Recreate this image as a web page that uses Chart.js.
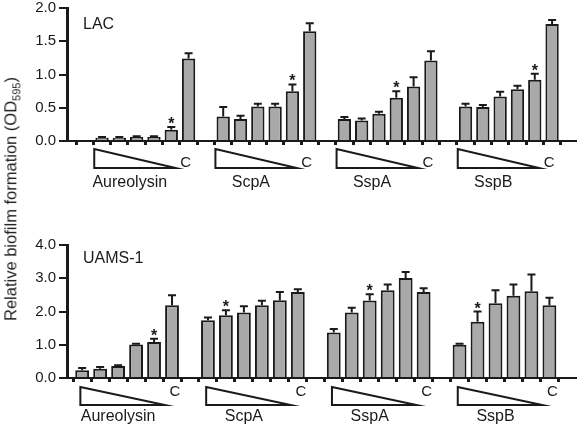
<!DOCTYPE html>
<html>
<head>
<meta charset="utf-8">
<script src="https://cdn.jsdelivr.net/npm/chart.js@4"></script>
<style>
  body { margin: 0; background: #fff; }
  #wrap { position: relative; width: 577px; height: 426px; font-family: "Liberation Sans", Arial, sans-serif; }
  canvas { position: absolute; left: 0; }
  #ylab { position: absolute; left: 12px; top: 199px; transform: translate(-50%, -50%) rotate(-90deg);
          white-space: nowrap; font-size: 16.5px; color: #222; }
  #ylab sub { font-size: 11px; }
</style>
</head>
<body>
<div id="wrap">
  <canvas id="lac" width="577" height="200" style="top:0"></canvas>
  <canvas id="uams" width="577" height="226" style="top:200px"></canvas>
  <div id="ylab">Relative biofilm formation (OD<sub>595</sub>)</div>
</div>
<script>
const groups = ["Aureolysin", "ScpA", "SspA", "SspB"];

// LAC: 6 bars per group (5 concentrations, then control C)
const lacMean = [0.05, 0.05, 0.06, 0.06, 0.17, 1.24,
                 0.37, 0.33, 0.52, 0.52, 0.75, 1.65,
                 0.33, 0.31, 0.41, 0.65, 0.82, 1.21,
                 0.52, 0.51, 0.67, 0.78, 0.92, 1.76];
const lacErr = [0.01, 0.01, 0.01, 0.01, 0.04, 0.08,
                0.14, 0.05, 0.04, 0.04, 0.10, 0.12,
                0.03, 0.03, 0.03, 0.10, 0.14, 0.14,
                0.04, 0.03, 0.07, 0.05, 0.09, 0.06];
const lacStar = [5, 5, 4, 5];   // bar (1-based) with asterisk in each group
const lacTicks = [0, 0.5, 1.0, 1.5, 2.0];

// UAMS-1
const uamsMean = [0.23, 0.28, 0.36, 1.01, 1.08, 2.19,
                  1.74, 1.89, 1.97, 2.19, 2.34, 2.59,
                  1.37, 1.97, 2.33, 2.64, 3.01, 2.59,
                  1.00, 1.69, 2.25, 2.47, 2.61, 2.19];
const uamsErr = [0.07, 0.05, 0.02, 0.02, 0.10, 0.30,
                 0.08, 0.15, 0.19, 0.13, 0.25, 0.08,
                 0.10, 0.14, 0.19, 0.17, 0.18, 0.11,
                 0.03, 0.31, 0.39, 0.34, 0.50, 0.22];
const uamsStar = [5, 2, 3, 2];
const uamsTicks = [0, 1.0, 2.0, 3.0, 4.0];

const FONT = "Liberation Sans";
const INK = "#1a1a1a";

function makePanel(id, title, mean, err, star, ticks, cfg) {
  // slot index of each bar: one empty slot per group
  const pts = mean.map((v, i) => ({ x: cfg.first + Math.floor(i / 6) * 7 + (i % 6), y: v }));

  const deco = {
    id: "deco",
    afterDatasetsDraw(chart) {
      const ctx = chart.ctx, xs = chart.scales.x, ys = chart.scales.y;
      const meta = chart.getDatasetMeta(0);
      ctx.save();
      ctx.strokeStyle = INK;
      ctx.fillStyle = INK;
      ctx.lineWidth = 2;
      // error bars (upward only)
      meta.data.forEach((bar, i) => {
        const top = ys.getPixelForValue(mean[i] + err[i]);
        ctx.beginPath();
        ctx.moveTo(bar.x, bar.y);
        ctx.lineTo(bar.x, top);
        ctx.moveTo(bar.x - 4, top);
        ctx.lineTo(bar.x + 4, top);
        ctx.stroke();
      });
      // asterisks
      ctx.font = "bold 16px " + FONT;
      ctx.textAlign = "center";
      ctx.textBaseline = "alphabetic";
      star.forEach((b, g) => {
        const i = g * 6 + b - 1;
        const top = ys.getPixelForValue(mean[i] + err[i]);
        ctx.fillText("*", meta.data[i].x, top + 2);
      });
      // triangles, C labels, group names
      groups.forEach((name, g) => {
        const f = cfg.first + g * 7;
        const l = xs.getPixelForValue(f + cfg.triL);
        const r = xs.getPixelForValue(f + cfg.triR);
        ctx.lineWidth = 2;
        ctx.beginPath();
        ctx.moveTo(l, cfg.triTop);
        ctx.lineTo(l, cfg.triBot);
        ctx.lineTo(r, cfg.triBot);
        ctx.closePath();
        ctx.stroke();
        ctx.font = "15px " + FONT;
        ctx.textBaseline = "middle";
        ctx.textAlign = "center";
        ctx.fillText("C", xs.getPixelForValue(f + 5) + cfg.cShift, cfg.cY);
        ctx.font = "16px " + FONT;
        ctx.fillText(name, xs.getPixelForValue(f + cfg.nameAt), cfg.nameY);
      });
      ctx.font = "16px " + FONT;
      ctx.textAlign = "left";
      ctx.fillText(title, 83, cfg.titleY);
      ctx.restore();
    }
  };

  return new Chart(document.getElementById(id), {
    type: "bar",
    data: {
      datasets: [{
        data: pts,
        backgroundColor: "#a9a9a9",
        borderColor: INK,
        borderWidth: 2,
        borderSkipped: "bottom",
        barPercentage: 0.77,
        categoryPercentage: 1
      }]
    },
    options: {
      responsive: false,
      animation: false,
      events: [],
      layout: { padding: { top: cfg.padTop, right: 2, left: 0, bottom: 0 } },
      plugins: { legend: { display: false }, tooltip: { enabled: false } },
      scales: {
        x: {
          type: "linear",
          min: cfg.xmin,
          max: cfg.xmax,
          ticks: { stepSize: 1, includeBounds: false, display: false },
          grid: { drawOnChartArea: false, drawTicks: true, tickLength: 4, lineWidth: 3, color: INK },
          border: { color: INK, width: 2 },
          afterFit(s) { s.height = cfg.xHeight; }
        },
        y: {
          min: 0,
          max: ticks[ticks.length - 1],
          afterBuildTicks(s) { s.ticks = ticks.map(v => ({ value: v })); },
          ticks: { color: INK, font: { family: FONT, size: 15 }, padding: 3,
                   callback: v => v.toFixed(1) },
          grid: { drawOnChartArea: false, tickLength: 8, lineWidth: 2, color: INK },
          border: { color: INK, width: 3 },
          afterFit(s) { s.width = 67; s.paddingTop = 0; s.paddingBottom = 0; }
        }
      }
    },
    plugins: [deco]
  });
}

makePanel("lac", "LAC", lacMean, lacErr, lacStar, lacTicks, {
  first: 1, xmin: -0.5, xmax: 27.8, padTop: 8, xHeight: 59,
  triL: -0.45, triR: 4.25, triTop: 149, triBot: 168,
  cShift: -3, cY: 163, nameAt: 1.6, nameY: 183, titleY: 25
});

makePanel("uams", "UAMS-1", uamsMean, uamsErr, uamsStar, uamsTicks, {
  first: 0, xmin: -0.32, xmax: 26.9, padTop: 45, xHeight: 48,
  triL: -0.1, triR: 4.6, triTop: 187, triBot: 205,
  cShift: 3, cY: 192, nameAt: 2.0, nameY: 217, titleY: 59
});
</script>
</body>
</html>
